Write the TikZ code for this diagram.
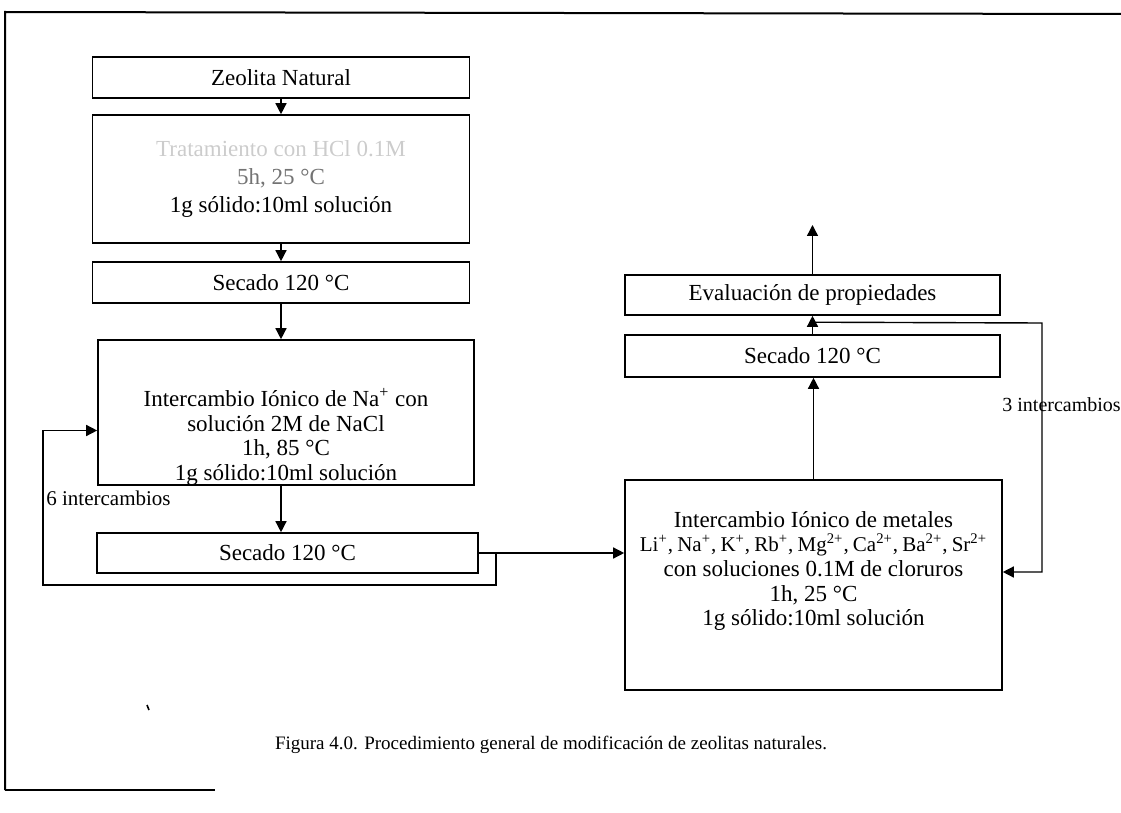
\documentclass[tikz,border=0pt]{standalone}
\usepackage{fontspec}
\setmainfont{Liberation Serif}
\usetikzlibrary{arrows.meta,calc}
% ion con su carga y la coma
\newcommand\ionc[2]{#1\textsuperscript{#2},\hspace{0.2em}}
\begin{document}
\begin{tikzpicture}[x=0.5pt,y=-0.5pt]
	\tikzset{caja/.style={draw=black, line width=0.8pt, minimum width=#1, inner sep=0pt, align=center,
			font=\fontsize{11.5}{12.3}\selectfont},
		% ancho normal de las cajas
		caja/.default={188.5pt},
		texto/.style={align=center, font=\fontsize{11.5}{12.3}\selectfont, inner sep=0pt},
		rotulo/.style={anchor=west, font=\fontsize{10.5}{12}\selectfont, inner sep=0pt},
		flecha/.style={line width=0.7pt, -{Triangle[length=5.5pt,width=5.5pt]}}}
	\useasboundingbox (0,0) rectangle (1121,813);
	%Marco
	\draw[line width=1pt] (5,790) -- (5,12) -- (1121,14);
	\draw[line width=1pt] (5,790) -- (215,790);
	\draw[line width=0.8pt] (147,705) -- (149,710);
	
	%Columna izquierda
	\node[caja, minimum height=20.5pt] (zeo) at (281,77.5) {Zeolita Natural};
	\node[caja, minimum height=64pt] (trat) at (281,179) {};
	\node[texto, font=\fontsize{11.5}{14}\selectfont] (tratt) at (281,179)
	{{\color{black!20}Tratamiento con HCl 0.1M}\\
		{\color{black!55}5h, 25 °C}\\1g sólido:10ml solución};
	\node[caja, minimum height=20.5pt] (sec1) at (281,282.5) {Secado 120 °C};
	\node[caja=188pt, minimum height=72.5pt] (na) at (286,412.5) {};
	\node[texto] (nat) at (286,437) {Intercambio Iónico de Na\textsuperscript{+} con\\solución 2M de NaCl\\
		1h, 85 °C\\1g sólido:10ml solución};
	\node[caja=190.5pt, minimum height=20pt] (sec2) at (287.5,553) {Secado 120 °C};
	
	%Columna derecha
	\node[caja, minimum height=105pt] (metal) at (813.5,585) {};
	\node[texto] (metalt) at (813.5,571) {Intercambio Iónico de metales\\
		{\fontsize{10.5}{12.3}\selectfont\ionc{Li}{+}\ionc{Na}{+}\ionc{K}{+}\ionc{Rb}{+}\ionc{Mg}{2+}\ionc{Ca}{2+}\ionc{Ba}{2+}Sr\textsuperscript{2+}}\\
		con soluciones 0.1M de cloruros\\1h, 25 °C\\1g sólido:10ml solución};
	\node[caja=187.5pt, minimum height=21pt] (sec3) at (812.5,356) {Secado 120 °C};
	\node[caja=187.5pt, minimum height=20pt] (eval) at (812.5,295) {Evaluación de propiedades};
	
	%Flechas
	\draw[flecha] (zeo.south) -- (zeo.south |- trat.north);
	\draw[flecha] (trat.south) -- (trat.south |- sec1.north);
	\draw[flecha] (sec1.south) -- (sec1.south |- na.north);
	\draw[flecha] (sec1.south |- na.south) -- (sec1.south |- sec2.north);
	\draw[flecha] (sec2.east) -- (sec2.east -| metal.west);
	\draw[flecha] (metal.north) -- (metal.north |- sec3.south);
	\draw[flecha] (sec3.north) -- (sec3.north |- eval.south);
	\coordinate (salida) at (812.5,225);
	\draw[flecha] (eval.north) -- (salida);
	
	%Intercambios repetidos
	\coordinate (rama) at ($(sec2.east)+(17,0)$);
	\coordinate (esq) at (43,585);
	\draw[flecha] (rama) |- (esq) |- ($(na.west)+(0,18)$);
	\node[rotulo] (seis) at (46,498) {6 intercambios};
	\coordinate (nudo) at ($(sec3.north)+(0,-12)$);
	\coordinate (vuelta) at (1042,323);
	\draw[flecha] (nudo) -- (vuelta) |- ($(metal.east)+(0,-13)$);
	\node[rotulo, font=\fontsize{10}{12}\selectfont] (tres) at (1002,405) {3 intercambios};
	
	%Pie de figura
	\node[font=\fontsize{9.5}{11}\selectfont] (fig) at (551,745)
	{Figura 4.0. Procedimiento general de modificación de zeolitas naturales.};
\end{tikzpicture}
\end{document}
